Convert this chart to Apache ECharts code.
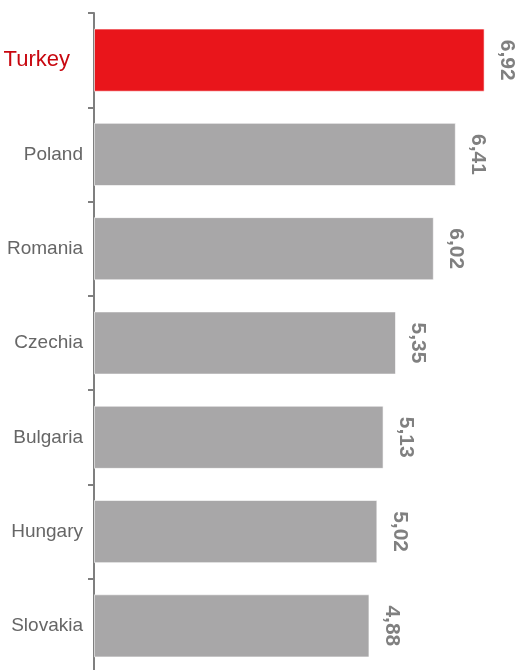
<!DOCTYPE html>
<html>
<head>
<meta charset="utf-8">
<script src="https://cdn.jsdelivr.net/npm/echarts@6/dist/echarts.min.js"></script>
<style>
  html, body { margin: 0; padding: 0; background: #fff; }
  #chart { width: 523px; height: 670px; }
</style>
</head>
<body>
<div id="chart"></div>
<script>
// Countries, top to bottom
const countries = ['Turkey', 'Poland', 'Romania', 'Czechia', 'Bulgaria', 'Hungary', 'Slovakia'];
// Values shown on the bars
const values = [6.92, 6.41, 6.02, 5.35, 5.13, 5.02, 4.88];
// Country drawn in the highlight colour
const highlight = 'Turkey';

const RED = '#e9151b';
const GRAY = '#a8a7a8';

const chart = echarts.init(document.getElementById('chart'), null, { renderer: 'canvas' });

chart.setOption({
  animation: false,
  grid: { left: 94, top: 13, bottom: -3, right: 0, outerBoundsMode: 'none' },
  xAxis: {
    type: 'value',
    min: 0,
    max: 7.6,
    show: false
  },
  yAxis: {
    type: 'category',
    data: countries,
    inverse: true,
    axisLine: { show: true, lineStyle: { color: '#7f7f7f', width: 2 } },
    axisTick: { show: true, length: 6, lineStyle: { color: '#7f7f7f', width: 2 } },
    axisLabel: {
      margin: 11,
      color: '#666666',
      fontFamily: 'Liberation Sans, Arial, sans-serif',
      fontSize: 19,
      formatter: (v) => v === highlight ? '{hl|' + v + '}' : v,
      rich: {
        hl: {
          color: '#c8070f',
          fontSize: 22,
          fontFamily: 'Liberation Sans, Arial, sans-serif',
          padding: [0, 13, 0, 0]
        }
      }
    }
  },
  series: [{
    type: 'bar',
    barCategoryGap: '33%',
    data: values.map((v, i) => ({
      value: v,
      itemStyle: { color: countries[i] === highlight ? RED : GRAY }
    })),
    itemStyle: { borderColor: 'rgba(255,255,255,0.6)', borderWidth: 1 },
    label: {
      show: true,
      position: 'right',
      distance: 22,
      rotate: -90,
      align: 'center',
      verticalAlign: 'middle',
      color: '#808080',
      fontWeight: 'bold',
      fontSize: 21,
      fontFamily: 'Liberation Sans, Arial, sans-serif',
      formatter: (p) => p.value.toFixed(2).replace('.', ',')
    }
  }]
});
</script>
</body>
</html>
